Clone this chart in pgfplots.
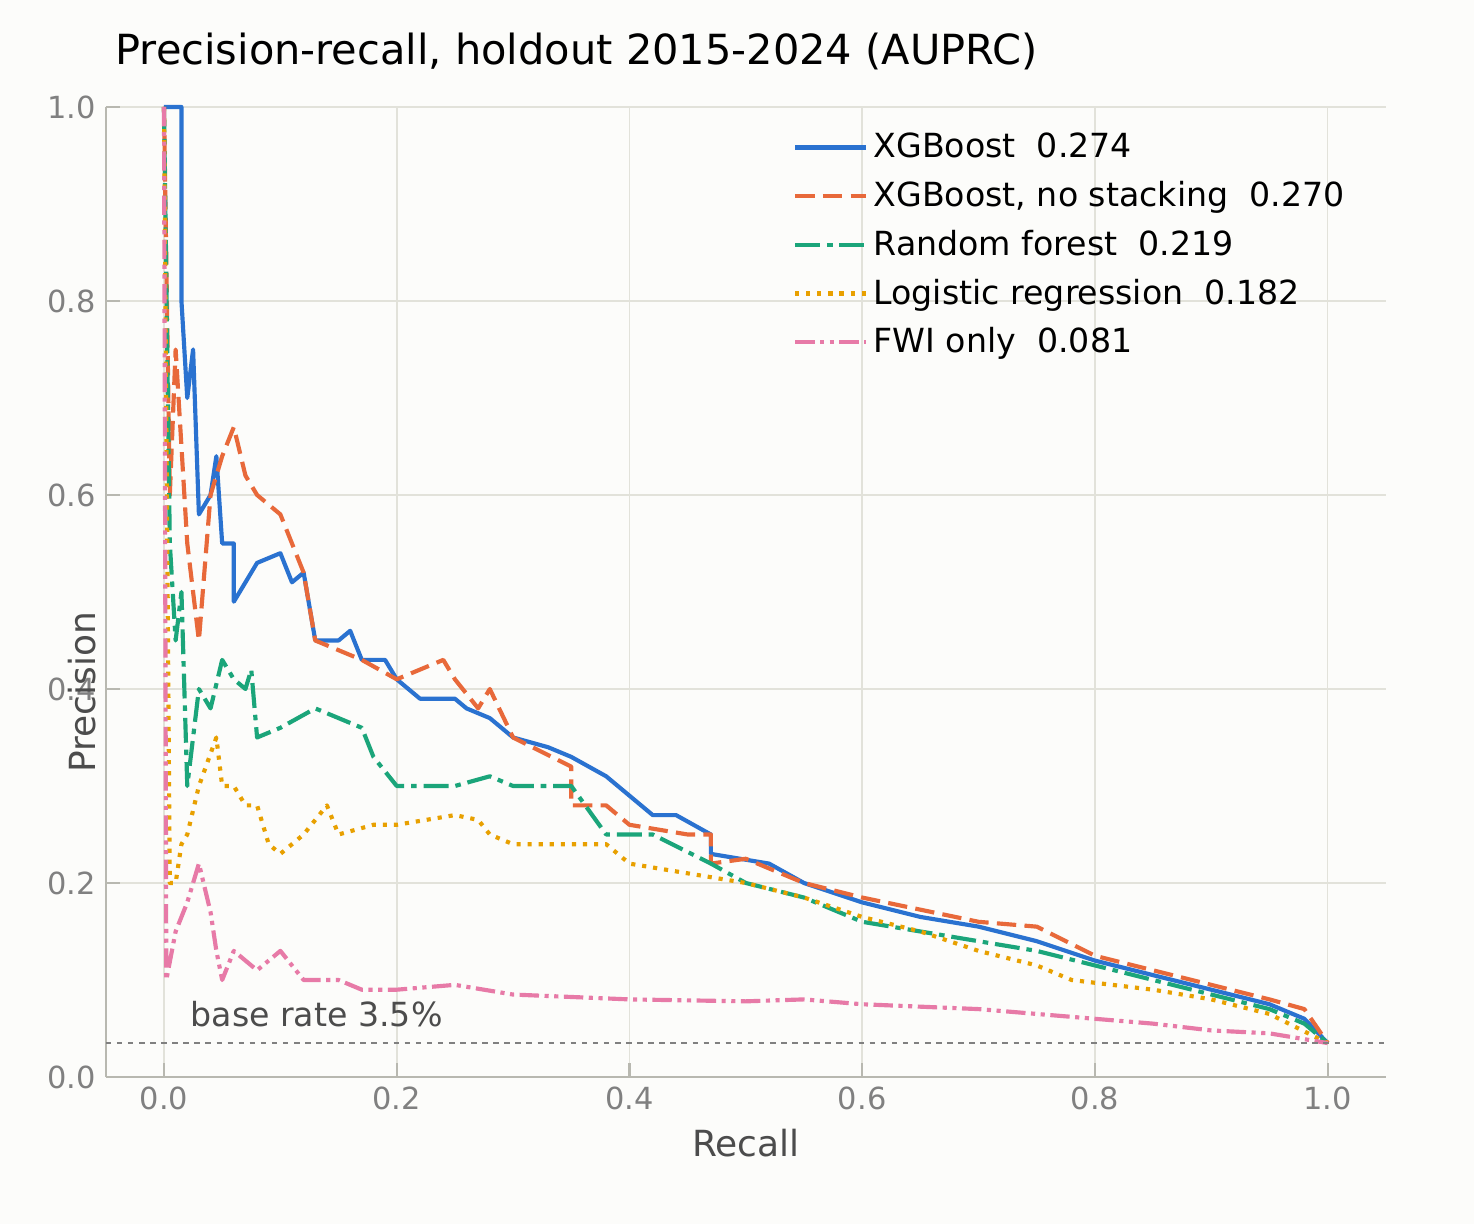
\documentclass[border=0pt]{standalone}
\usepackage{pgfplots}
\pgfplotsset{compat=1.18}
\usepackage{fontspec}
\setmainfont{DejaVu Sans}
\definecolor{bg}{HTML}{FCFCFA}
\definecolor{cb}{HTML}{2A72D0}
\definecolor{co}{HTML}{E8693A}
\definecolor{cg}{HTML}{1BA57A}
\definecolor{cy}{HTML}{E8A000}
\definecolor{cp}{HTML}{E77AA7}
\definecolor{gridc}{HTML}{E2E2DA}
\definecolor{spine}{HTML}{B8B8B0}
\begin{document}
\begin{tikzpicture}
\fill[bg] (-0.82in,-0.735in) rectangle (6.55in,5.385in);
\begin{axis}[at={(0,0)},anchor=origin,
  scale only axis, width=6.4in, height=4.85in,
  xmin=-0.05, xmax=1.05, ymin=0, ymax=1,
  axis x line*=bottom, axis y line*=left,
  axis line style={spine, line width=0.8pt},
  xtick={0,0.2,...,1.0}, ytick={0,0.2,...,1.0},
  xticklabels={0.0,0.2,0.4,0.6,0.8,1.0},
  yticklabels={0.0,0.2,0.4,0.6,0.8,1.0},
  tick style={spine, line width=0.8pt}, major tick length=5pt,
  tick label style={font=\fontsize{11}{13}\selectfont, text=gray},
  grid=major, grid style={gridc, line width=0.6pt},
  xlabel={Recall}, ylabel={Precision},
  label style={font=\fontsize{13}{15}\selectfont, text=black!70},
  ylabel style={at={(rel axis cs:0,0.5)}, anchor=south, xshift=-0.5in, yshift=0pt, rotate=0},
  title={Precision-recall, holdout 2015-2024 (AUPRC)},
  title style={font=\fontsize{15}{18}\selectfont, anchor=south west, at={(0,1)}, xshift=0pt, yshift=4pt},
  legend style={at={(0.53,0.985)}, anchor=north west, draw=none, fill=none,
    font=\fontsize{12}{14}\selectfont, row sep=3pt},
  legend cell align=left,
  legend image post style={xscale=1.5},
  line join=round,
  clip=false,
]
\addplot[cb, line width=1.5pt] coordinates {(0,1)(0.015,1)(0.015,0.8)(0.02,0.7)(0.025,0.75)(0.03,0.58)(0.04,0.6)(0.045,0.64)(0.05,0.55)(0.06,0.55)(0.06,0.49)(0.07,0.51)(0.08,0.53)(0.1,0.54)(0.11,0.51)(0.12,0.52)(0.13,0.45)(0.15,0.45)(0.16,0.46)(0.17,0.43)(0.19,0.43)(0.2,0.41)(0.22,0.39)(0.25,0.39)(0.26,0.38)(0.28,0.37)(0.3,0.35)(0.33,0.34)(0.35,0.33)(0.38,0.31)(0.4,0.29)(0.42,0.27)(0.44,0.27)(0.47,0.25)(0.47,0.23)(0.52,0.22)(0.55,0.2)(0.6,0.18)(0.65,0.165)(0.7,0.155)(0.75,0.14)(0.8,0.12)(0.85,0.105)(0.9,0.09)(0.95,0.075)(0.98,0.06)(1,0.035)};
\addlegendentry{XGBoost\ \ 0.274}
\addplot[co, line width=1.5pt, dash pattern=on 7pt off 3pt] coordinates {(0,1)(0.005,0.6)(0.01,0.75)(0.015,0.65)(0.02,0.55)(0.03,0.45)(0.04,0.6)(0.05,0.64)(0.06,0.67)(0.07,0.62)(0.08,0.6)(0.1,0.58)(0.12,0.52)(0.13,0.45)(0.15,0.44)(0.17,0.43)(0.2,0.41)(0.22,0.42)(0.24,0.43)(0.25,0.41)(0.27,0.38)(0.28,0.4)(0.3,0.35)(0.35,0.32)(0.35,0.28)(0.38,0.28)(0.4,0.26)(0.45,0.25)(0.47,0.25)(0.47,0.22)(0.5,0.225)(0.55,0.2)(0.6,0.185)(0.7,0.16)(0.75,0.155)(0.8,0.125)(0.85,0.11)(0.9,0.095)(0.95,0.08)(0.98,0.07)(1,0.035)};
\addlegendentry{XGBoost, no stacking\ \ 0.270}
\addplot[cg, line width=1.5pt, dash pattern=on 9pt off 2.5pt on 2pt off 2.5pt] coordinates {(0,1)(0.005,0.55)(0.01,0.45)(0.015,0.5)(0.02,0.3)(0.03,0.4)(0.04,0.38)(0.05,0.43)(0.06,0.41)(0.07,0.4)(0.075,0.42)(0.08,0.35)(0.1,0.36)(0.13,0.38)(0.15,0.37)(0.17,0.36)(0.18,0.33)(0.2,0.3)(0.25,0.3)(0.28,0.31)(0.3,0.3)(0.35,0.3)(0.38,0.25)(0.42,0.25)(0.47,0.22)(0.5,0.2)(0.55,0.185)(0.6,0.16)(0.65,0.15)(0.7,0.14)(0.75,0.13)(0.8,0.115)(0.85,0.1)(0.9,0.085)(0.95,0.07)(0.98,0.055)(1,0.035)};
\addlegendentry{Random forest\ \ 0.219}
\addplot[cy, line width=1.5pt, dash pattern=on 1.5pt off 2.5pt] coordinates {(0,1)(0.005,0.2)(0.01,0.2)(0.015,0.24)(0.02,0.25)(0.03,0.3)(0.045,0.35)(0.05,0.3)(0.06,0.3)(0.07,0.28)(0.08,0.28)(0.09,0.24)(0.1,0.23)(0.12,0.25)(0.14,0.28)(0.15,0.25)(0.18,0.26)(0.2,0.26)(0.25,0.27)(0.27,0.265)(0.28,0.25)(0.3,0.24)(0.35,0.24)(0.38,0.24)(0.4,0.22)(0.45,0.21)(0.5,0.2)(0.55,0.185)(0.6,0.165)(0.65,0.15)(0.7,0.13)(0.75,0.115)(0.78,0.1)(0.85,0.09)(0.9,0.08)(0.95,0.065)(1,0.035)};
\addlegendentry{Logistic regression\ \ 0.182}
\addplot[cp, line width=1.5pt, dash pattern=on 7pt off 2pt on 1.5pt off 2pt on 1.5pt off 2pt] coordinates {(0,1)(0.002,0.1)(0.01,0.15)(0.02,0.18)(0.03,0.22)(0.04,0.17)(0.045,0.13)(0.05,0.1)(0.06,0.13)(0.07,0.12)(0.08,0.11)(0.1,0.13)(0.12,0.1)(0.15,0.1)(0.17,0.09)(0.2,0.09)(0.25,0.095)(0.3,0.085)(0.4,0.08)(0.5,0.078)(0.55,0.08)(0.6,0.075)(0.7,0.07)(0.8,0.06)(0.85,0.055)(0.9,0.048)(0.95,0.045)(1,0.035)};
\addlegendentry{FWI only\ \ 0.081}
\addplot[gray, line width=1pt, dash pattern=on 2pt off 2pt, forget plot] coordinates {(-0.05,0.035)(1.05,0.035)};
\node[anchor=south west, text=black!70, font=\fontsize{12}{14}\selectfont, inner sep=1pt] at (axis cs:0.02,0.048) {base rate 3.5\%};
\end{axis}
\pgfresetboundingbox
\useasboundingbox (-0.82in,-0.735in) rectangle (6.55in,5.385in);
\end{tikzpicture}
\end{document}
